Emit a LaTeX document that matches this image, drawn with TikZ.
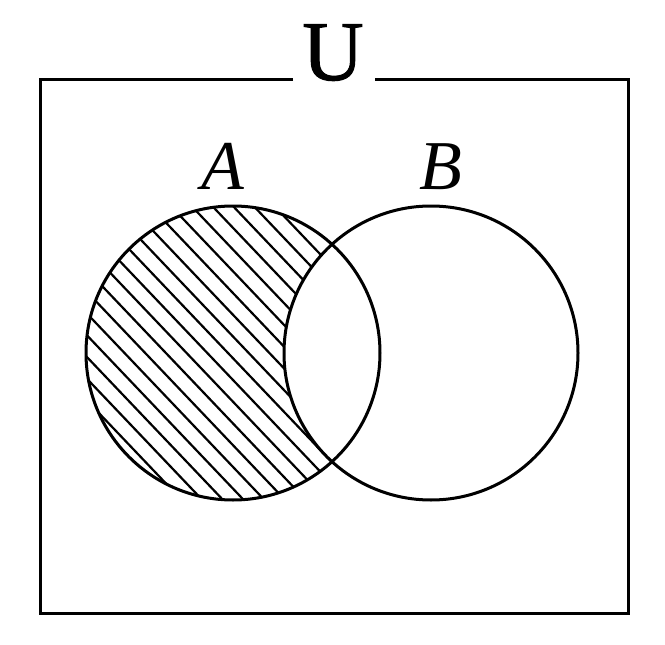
\documentclass[tikz,border=0pt]{standalone}
\usepackage{fontspec}
\setmainfont{Liberation Serif}
\newfontfamily\ufont[FakeBold=1.2]{Liberation Serif}
\begin{document}
\begin{tikzpicture}[x=1pt,y=-1pt,
  frame/.style={line width=3pt, line join=miter},
  setcircle/.style={circle, draw, line width=3pt, minimum size=294pt, inner sep=0pt, outer sep=0pt},
  hatchline/.style={line width=2.2pt},
  biglabel/.style={inner sep=0pt, anchor=base, font=\ufont\fontsize{85}{85}\selectfont},
  setlabel/.style={inner sep=0pt, anchor=base, font=\fontsize{70}{70}\selectfont\itshape}]
\useasboundingbox (0,0) rectangle (665,645);
% frame
\coordinate (gl) at (293,79);
\coordinate (tl) at (40,79);
\coordinate (bl) at (40,613);
\coordinate (br) at (628,613);
\coordinate (tr) at (628,79);
\coordinate (gr) at (375,79);
\draw[frame] (gl) -- (tl) -- (bl) -- (br) -- (tr) -- (gr);
\node[biglabel] (U) at (333,80) {U};
% hatching of A minus B
\begin{scope}
  \clip (233,353) circle (147);
  \foreach \k in {-14,...,14} {
    \draw[hatchline] ({228+\k*20.7-300},{353-315}) -- ({228+\k*20.7+300},{353+315});
  }
\end{scope}
\fill[white] (431,353) circle (147);
\node[setcircle] (A) at (233,353) {};
\node[setcircle] (B) at (431,353) {};
\node[setlabel] (la) at (223,189) {A};
\node[setlabel] (lb) at (441,189) {B};
\end{tikzpicture}
\end{document}
